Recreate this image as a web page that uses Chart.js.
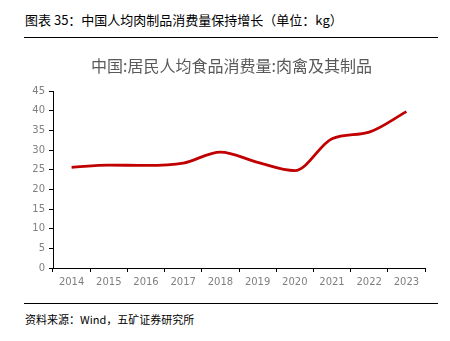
<!DOCTYPE html>
<html>
<head>
<meta charset="utf-8">
<script src="https://cdn.jsdelivr.net/npm/chart.js@4"></script>
<style>
  body { margin: 0; width: 450px; height: 341px; background: #fff; position: relative; overflow: hidden;
         font-family: "Noto Sans CJK SC", "Liberation Sans", sans-serif; }
  #head { position: absolute; left: 25px; top: 10px; font-size: 13px; color: #000; }
  #rule1, #rule2 { position: absolute; left: 24px; width: 414px; height: 0; border-top: 1.5px solid #000; }
  #rule1 { top: 37px; }
  #rule2 { top: 303px; }
  #src { position: absolute; left: 25px; top: 311px; font-size: 11px; color: #000; }
  #wrap { position: absolute; left: 0; top: 40px; width: 450px; height: 260px; }
</style>
</head>
<body>
<div id="head">图表 35：中国人均肉制品消费量保持增长（单位：kg）</div>
<div id="rule1"></div>
<div id="wrap"><canvas id="myChart"></canvas></div>
<div id="rule2"></div>
<div id="src">资料来源：Wind，五矿证券研究所</div>
<script>
const years = ["2014", "2015", "2016", "2017", "2018", "2019", "2020", "2021", "2022", "2023"];
const meat = [25.6, 26.2, 26.1, 26.7, 29.5, 26.9, 24.8, 32.9, 34.6, 39.8];
const yTicks = [0, 5, 10, 15, 20, 25, 30, 35, 40, 45];

// the title sits a bit right of the canvas centre in the original
const shiftTitle = {
  id: "shiftTitle",
  afterLayout(chart) {
    const t = chart.titleBlock;
    if (t) { t.left += 19; t.right += 19; }
  },
};

new Chart("myChart", {
  type: "line",
  data: {
    labels: years,
    datasets: [
      {
        label: "中国:居民人均食品消费量:肉禽及其制品",
        data: meat,
        fill: false,
        borderColor: "#c00000",
        borderWidth: 2.8,
        pointRadius: 0,
        cubicInterpolationMode: "monotone",
      },
    ],
  },
  plugins: [shiftTitle],
  options: {
    responsive: true,
    maintainAspectRatio: false,
    animation: false,
    layout: { padding: { left: 0, right: 25, top: 0, bottom: 8 } },
    plugins: {
      legend: { display: false },
      tooltip: { enabled: false },
      title: {
        display: true,
        text: "中国:居民人均食品消费量:肉禽及其制品",
        color: "#595959",
        font: { size: 16, family: "Noto Sans CJK SC", weight: "normal" },
        padding: { top: 16, bottom: 16 },
      },
    },
    scales: {
      x: {
        offset: true,
        grid: { offset: true, drawOnChartArea: false, tickLength: 4, color: "#000" },
        border: { color: "#000", width: 1 },
        ticks: { color: "#808080", font: { size: 10, family: "DejaVu Sans" }, padding: 4, maxRotation: 0 },
      },
      y: {
        min: 0,
        max: 45,
        afterBuildTicks: (axis) => { axis.ticks = yTicks.map((v) => ({ value: v })); },
        afterFit: (axis) => { axis.width = 53; },
        grid: { drawOnChartArea: false, tickLength: 4, color: "#000" },
        border: { color: "#000", width: 1 },
        ticks: { color: "#808080", font: { size: 10, family: "DejaVu Sans" }, padding: 4 },
      },
    },
  },
});
</script>
</body>
</html>
